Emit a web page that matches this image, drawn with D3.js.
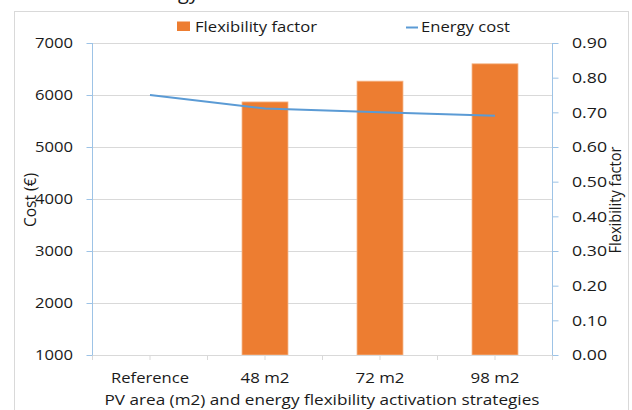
<!DOCTYPE html>
<html><head><meta charset="utf-8">
<script src="https://cdn.jsdelivr.net/npm/d3@7"></script>
<style>
html,body{margin:0;padding:0;background:#fff;}
text{font-family:"Open Sans",sans-serif;fill:#1a1a1a;}
</style></head>
<body><svg id="c" width="632" height="410"></svg>
<script>
const categories = ["Reference", "48 m2", "72 m2", "98 m2"];
const energyCost = [6000, 5740, 5670, 5600];
const flexFactor = [null, 0.73, 0.79, 0.84];
const leftTicks = [1000, 2000, 3000, 4000, 5000, 6000, 7000];
const rightTicks = [0, 0.1, 0.2, 0.3, 0.4, 0.5, 0.6, 0.7, 0.8, 0.9];

const svg = d3.select("#c");
const L = 92.5, R = 552.5, T = 43, B = 355;
const axisBlue = "#9dc3e6", grid = "#d9d9d9";

// outer border
svg.append("rect").attr("x",14.5).attr("y",11.5).attr("width",614).attr("height",420)
  .attr("fill","none").attr("stroke","#d9d9d9");

// clipped title remnant (the reference shows only its descenders)
svg.append("text").attr("x",199).attr("y",-1.5).attr("text-anchor","end")
  .style("font-size","20px").text("Energy");

const x = d3.scaleBand().domain(categories).range([L, R]).paddingInner(0.6).paddingOuter(0.3);
const yL = d3.scaleLinear().domain([1000, 7000]).range([B, T]);
const yR = d3.scaleLinear().domain([0, 0.9]).range([B, T]);

// gridlines
svg.append("g").selectAll("line").data(leftTicks.slice(1)).join("line")
  .attr("x1",L).attr("x2",R).attr("y1",d=>Math.round(yL(d))+0.5).attr("y2",d=>Math.round(yL(d))+0.5)
  .attr("stroke",grid).attr("stroke-width",1);

// bars
svg.append("g").selectAll("rect").data(categories.map((c,i)=>({c,v:flexFactor[i]})).filter(d=>d.v!=null)).join("rect")
  .attr("x",d=>x(d.c)).attr("width",x.bandwidth())
  .attr("y",d=>yR(d.v)).attr("height",d=>B-yR(d.v))
  .attr("fill","#ed7d31").attr("stroke","#f6b98f").attr("stroke-width",0.8);

// x axis line + ticks
svg.append("line").attr("x1",L).attr("x2",R).attr("y1",B+0.5).attr("y2",B+0.5).attr("stroke",grid);
const step = x.step()/2;
const xt = d3.range(0, categories.length*2+1).map(i=>L+i*step);
svg.append("g").selectAll("line").data(xt).join("line")
  .attr("x1",d=>d).attr("x2",d=>d).attr("y1",B).attr("y2",B+5).attr("stroke",grid);

// line series
const lineGen = d3.line().x((d,i)=>x(categories[i])+x.bandwidth()/2).y(d=>yL(d));
svg.append("path").datum(energyCost).attr("d",lineGen)
  .attr("fill","none").attr("stroke","#5b9bd5").attr("stroke-width",2);

// left axis
const gl = svg.append("g").attr("transform",`translate(${L},0)`);
gl.call(d3.axisLeft(yL).tickValues(d3.range(1000,7001,200)).tickSize(5).tickFormat(""));
gl.call(d3.axisLeft(yL).tickValues(leftTicks).tickSize(6).tickFormat(""));
gl.selectAll("path,line").attr("stroke",axisBlue);
gl.selectAll(".domain").remove();
gl.append("line").attr("x1",0).attr("x2",0).attr("y1",T).attr("y2",B).attr("stroke",axisBlue);
svg.append("g").selectAll("text").data(leftTicks).join("text")
  .attr("x",73).attr("y",d=>yL(d)).attr("dy","0.36em").attr("text-anchor","end")
  .style("font-size","14.5px").attr("textLength",38).attr("lengthAdjust","spacingAndGlyphs")
  .text(d=>d);

// right axis
const gr = svg.append("g").attr("transform",`translate(${R},0)`);
gr.call(d3.axisRight(yR).tickValues(d3.range(0,46).map(i=>i*0.02)).tickSize(5).tickFormat(""));
gr.call(d3.axisRight(yR).tickValues(rightTicks).tickSize(6).tickFormat(""));
gr.selectAll("path,line").attr("stroke",axisBlue);
gr.selectAll(".domain").remove();
gr.append("line").attr("x1",0).attr("x2",0).attr("y1",T).attr("y2",B).attr("stroke",axisBlue);
svg.append("g").selectAll("text").data(rightTicks).join("text")
  .attr("x",572).attr("y",d=>yR(d)).attr("dy","0.36em").attr("text-anchor","start")
  .style("font-size","14.5px").attr("textLength",35).attr("lengthAdjust","spacingAndGlyphs")
  .text(d=>d3.format(".2f")(d));

// category labels
svg.append("g").selectAll("text").data(categories).join("text")
  .attr("x",d=>x(d)+x.bandwidth()/2).attr("y",383).attr("text-anchor","middle")
  .style("font-size","14.5px").attr("textLength",d=>d==="Reference"?78:49).attr("lengthAdjust","spacingAndGlyphs")
  .text(d=>d);

// axis titles
svg.append("text").attr("x",322).attr("y",405).attr("text-anchor","middle")
  .style("font-size","14.5px").attr("textLength",435).attr("lengthAdjust","spacingAndGlyphs")
  .text("PV area (m2) and energy flexibility activation strategies");
svg.append("text").attr("transform","translate(36,200) rotate(-90)").attr("text-anchor","middle")
  .style("font-size","16.5px").attr("textLength",54).attr("lengthAdjust","spacingAndGlyphs")
  .text("Cost (€)");
svg.append("text").attr("transform","translate(615,200) rotate(-90)").attr("text-anchor","middle")
  .attr("dy","0.36em")
  .style("font-size","16.5px").attr("textLength",107).attr("lengthAdjust","spacingAndGlyphs")
  .text("Flexibility factor");

// legend
svg.append("rect").attr("x",177).attr("y",21.5).attr("width",13).attr("height",9.5).attr("fill","#ed7d31");
svg.append("text").attr("x",195).attr("y",27).attr("dy","0.36em")
  .style("font-size","15px").attr("textLength",122).attr("lengthAdjust","spacingAndGlyphs")
  .text("Flexibility factor");
svg.append("line").attr("x1",406).attr("x2",418).attr("y1",27.5).attr("y2",27.5)
  .attr("stroke","#5b9bd5").attr("stroke-width",2);
svg.append("text").attr("x",421).attr("y",27).attr("dy","0.36em")
  .style("font-size","15px").attr("textLength",89).attr("lengthAdjust","spacingAndGlyphs")
  .text("Energy cost");
</script></body></html>
